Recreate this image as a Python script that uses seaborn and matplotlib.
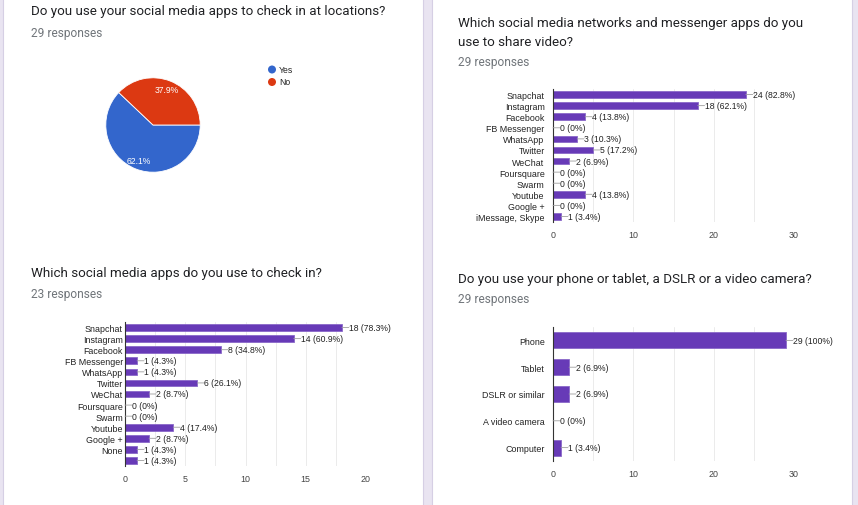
import matplotlib.pyplot as plt
import matplotlib.patches as mpatches
import numpy as np
import pandas as pd
import seaborn as sns

# Data
pie_labels = ['Yes', 'No']
pie_values = [18, 11]

video_apps = ['Snapchat', 'Instagram', 'Facebook', 'FB Messenger', 'WhatsApp', 'Twitter',
              'WeChat', 'Foursquare', 'Swarm', 'Youtube', 'Google +', 'iMessage, Skype']
video_counts = [24, 18, 4, 0, 3, 5, 2, 0, 0, 4, 0, 1]
video_pct = ['82.8%', '62.1%', '13.8%', '0%', '10.3%', '17.2%', '6.9%', '0%', '0%', '13.8%', '0%', '3.4%']

checkin_apps = ['Snapchat', 'Instagram', 'Facebook', 'FB Messenger', 'WhatsApp', 'Twitter',
                'WeChat', 'Foursquare', 'Swarm', 'Youtube', 'Google +', 'None', ' ']
checkin_counts = [18, 14, 8, 1, 1, 6, 2, 0, 0, 4, 2, 1, 1]
checkin_pct = ['78.3%', '60.9%', '34.8%', '4.3%', '4.3%', '26.1%', '8.7%', '0%', '0%', '17.4%', '8.7%', '4.3%', '4.3%']

devices = ['Phone', 'Tablet', 'DSLR or similar', 'A video camera', 'Computer']
device_counts = [29, 2, 2, 0, 1]
device_pct = ['100%', '6.9%', '6.9%', '0%', '3.4%']

W, H = 858, 506
BAR = '#673ab7'
BAR_EDGE = '#8a68c9'
PIE_COLORS = ['#3366cc', '#dc3912']

sns.set_style('white')
plt.rcParams['font.family'] = ['Roboto', 'DejaVu Sans']

fig = plt.figure(figsize=(W / 100, H / 100), dpi=100)
fig.patch.set_facecolor('#e9e4f1')


def px_axes(left, top, right, bottom):
    return fig.add_axes([left / W, 1 - bottom / H, (right - left) / W, (bottom - top) / H])


# white cards behind everything
for x0, x1 in [(3, 423), (432, 852)]:
    fig.patches.append(mpatches.Rectangle((x0 / W, -0.01), (x1 - x0) / W, 1.02, transform=fig.transFigure,
                                          facecolor='white', edgecolor='#d6cfe4', linewidth=0.8, zorder=-5))


def header(x, y, lines, resp):
    for i, line in enumerate(lines):
        fig.text(x / W, 1 - (y + i * 19) / H, line, fontsize=9.6, color='#202124', va='center')
    fig.text(x / W, 1 - (y + len(lines) * 19 + 2) / H, resp, fontsize=8.6, color='#70757a', va='center')


header(31, 12, ['Do you use your social media apps to check in at locations?'], '29 responses')
header(458, 23, ['Which social media networks and messenger apps do you', 'use to share video?'], '29 responses')
header(31, 274, ['Which social media apps do you use to check in?'], '23 responses')
header(458, 279, ['Do you use your phone or tablet, a DSLR or a video camera?'], '29 responses')

# pie
ax = px_axes(94, 67, 212, 185)
wedges, _, autotexts = ax.pie(pie_values, colors=PIE_COLORS, startangle=0, counterclock=False,
                              autopct='%1.1f%%', pctdistance=0.8,
                              wedgeprops=dict(edgecolor='white', linewidth=0.6),
                              textprops=dict(color='white', fontsize=6.2, family='Liberation Sans'))
ax.set_aspect('equal')

# legend
for lab, c, yy in zip(pie_labels, PIE_COLORS, [70.5, 83]):
    fig.patches.append(mpatches.Ellipse((272 / W, 1 - yy / H), 8 / W, 8 / H, transform=fig.transFigure,
                                        facecolor=c, edgecolor='none'))
    fig.text(279 / W, 1 - yy / H, lab, fontsize=6.2, family='Liberation Sans', color='#222222', va='center')


def bar_chart(rect, cats, counts, pcts, xmax, major, minor, ypad):
    ax = px_axes(*rect)
    df = pd.DataFrame({'cat': cats, 'n': counts})
    sns.barplot(data=df, y='cat', x='n', orient='h', color=BAR, width=0.6,
                edgecolor=BAR_EDGE, linewidth=0.6, saturation=1, ax=ax)
    for i, (n, p) in enumerate(zip(counts, pcts)):
        ax.annotate(f'{n} ({p})', xy=(n, i), xytext=(5, 0), textcoords='offset points',
                    va='center', ha='left', fontsize=6.2, color='#222222', family='Liberation Sans',
                    arrowprops=dict(arrowstyle='-', color='#9e9e9e', lw=0.6, relpos=(0, 0.5),
                                    shrinkA=0, shrinkB=0, patchA=None))
    ax.set_xlim(0, xmax)
    ax.set_xticks(np.arange(0, xmax + 0.1, major))
    ax.set_xticks(np.arange(0, xmax + 0.1, minor), minor=True)
    ax.grid(axis='x', which='both', color='#ebebeb', linewidth=0.7)
    ax.set_axisbelow(True)
    ax.set_xlabel('')
    ax.set_ylabel('')
    ax.patch.set_alpha(0)
    for s in ['top', 'right', 'bottom']:
        ax.spines[s].set_visible(False)
    ax.spines['left'].set_color('#333333')
    ax.spines['left'].set_linewidth(0.8)
    ax.tick_params(axis='both', which='both', length=0, labelsize=6.4, colors='#222222')
    ax.tick_params(axis='y', pad=ypad)
    ax.tick_params(axis='x', pad=6, colors='#444444')
    for t in ax.get_xticklabels() + ax.get_yticklabels():
        t.set_family('Liberation Sans')
    return ax


bar_chart((553, 90, 794, 223), video_apps, video_counts, video_pct, 30, 10, 5, 6)
bar_chart((125, 323, 366, 467), checkin_apps, checkin_counts, checkin_pct, 20, 5, 2.5, 1.5)
bar_chart((553, 328, 794, 462), devices, device_counts, device_pct, 30, 10, 5, 6)

plt.savefig('out.png', dpi=100, facecolor=fig.get_facecolor())
